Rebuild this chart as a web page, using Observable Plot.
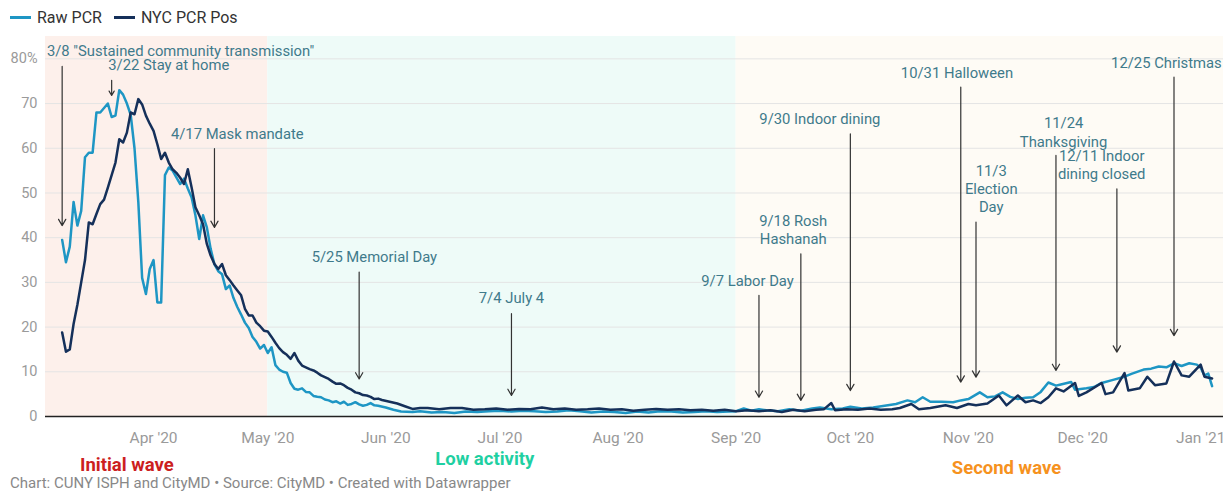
<!DOCTYPE html>
<html><head><meta charset="utf-8">
<script src="https://cdn.jsdelivr.net/npm/d3@7"></script>
<script src="https://cdn.jsdelivr.net/npm/@observablehq/plot@0.6"></script>
<style>
body{margin:0;background:#fff;font-family:Roboto,sans-serif;}
#wrap{position:relative;width:1223px;height:492px;overflow:hidden;}
#legend{position:absolute;left:10px;top:8px;font-size:16px;color:#333;display:flex;align-items:center;white-space:nowrap;}
#legend .sw{display:inline-block;width:21px;height:3px;margin-right:6px;}
#legend .it{display:flex;align-items:center;margin-right:12px;}
#chart{position:absolute;left:0;top:32px;}
#caption{position:absolute;left:10px;top:475px;font-size:15px;line-height:16px;color:#888;white-space:nowrap;}
</style></head><body>
<div id="wrap">
  <div id="legend"></div>
  <div id="chart"></div>
  <div id="caption">Chart: CUNY ISPH and CityMD • Source: CityMD • Created with Datawrapper</div>
</div>
<script>
// ---- data ----
const seriesNames = ["Raw PCR", "NYC PCR Pos"];

const rawPCR = [
["2020-03-08",39.5],["2020-03-09",34.5],["2020-03-10",38],["2020-03-11",48],["2020-03-12",42.7],["2020-03-13",46],
["2020-03-14",58],["2020-03-15",59],["2020-03-16",59],["2020-03-17",68],["2020-03-18",68],["2020-03-19",69],
["2020-03-20",70],["2020-03-21",67],["2020-03-22",67.3],["2020-03-23",73],["2020-03-24",72],["2020-03-25",70],
["2020-03-26",67.5],["2020-03-27",60],["2020-03-28",48],["2020-03-29",31],["2020-03-30",27.4],["2020-03-31",33],
["2020-04-01",35],["2020-04-02",25.5],["2020-04-03",25.5],["2020-04-04",54],["2020-04-05",55.7],["2020-04-06",55],
["2020-04-07",53.5],["2020-04-08",52],["2020-04-09",53.2],["2020-04-10",51],["2020-04-11",49],["2020-04-12",45],
["2020-04-13",39.7],["2020-04-14",45],["2020-04-15",42.3],["2020-04-16",37.5],["2020-04-17",34],["2020-04-18",32.5],
["2020-04-19",31.8],["2020-04-20",28.5],["2020-04-21",29.3],["2020-04-22",26.5],["2020-04-23",24.5],["2020-04-24",22.8],
["2020-04-25",21],["2020-04-26",19.8],["2020-04-27",17.8],["2020-04-28",16.7],["2020-04-29",15.2],["2020-04-30",16],
["2020-05-01",14.2],["2020-05-02",15.5],["2020-05-03",11.5],["2020-05-04",10.5],["2020-05-05",10],["2020-05-06",9.8],
["2020-05-07",7.5],["2020-05-08",6.2],["2020-05-09",6],["2020-05-10",6.3],["2020-05-11",5.5],["2020-05-12",5.4],
["2020-05-13",4.6],["2020-05-14",4.4],["2020-05-15",4.3],["2020-05-16",3.8],["2020-05-17",3.6],["2020-05-18",3.2],
["2020-05-19",3.4],["2020-05-20",2.9],["2020-05-21",3.3],["2020-05-22",2.6],["2020-05-23",2.8],["2020-05-24",3.2],
["2020-05-25",2.7],["2020-05-26",2.4],["2020-05-27",2.6],["2020-05-28",3.0],["2020-05-29",2.5],["2020-05-30",2.4],
["2020-06-01",2.0],["2020-06-03",1.5],["2020-06-05",1.1],["2020-06-08",1.0],["2020-06-10",1.2],["2020-06-13",0.9],
["2020-06-16",1.0],["2020-06-19",0.8],["2020-06-22",1.1],["2020-06-25",1.0],["2020-06-28",1.2],["2020-07-01",1.3],
["2020-07-04",1.1],["2020-07-07",1.3],["2020-07-10",1.2],["2020-07-13",1.0],["2020-07-16",1.1],["2020-07-19",1.4],
["2020-07-22",1.2],["2020-07-25",0.9],["2020-07-28",1.1],["2020-07-31",1.0],["2020-08-03",0.8],["2020-08-06",1.1],
["2020-08-09",0.9],["2020-08-12",1.2],["2020-08-15",1.1],["2020-08-18",0.9],["2020-08-21",1.0],["2020-08-24",1.2],
["2020-08-27",1.0],["2020-08-30",1.1],["2020-09-01",1.2],["2020-09-03",1.8],["2020-09-05",1.3],["2020-09-07",1.6],
["2020-09-09",1.4],["2020-09-12",1.2],["2020-09-15",1.6],["2020-09-18",1.3],["2020-09-21",1.8],["2020-09-23",2.0],
["2020-09-26",1.6],["2020-09-29",1.8],["2020-10-01",2.2],["2020-10-04",1.8],["2020-10-07",2.0],["2020-10-10",2.4],
["2020-10-13",2.8],["2020-10-16",3.6],["2020-10-18",3.2],["2020-10-20",4.3],["2020-10-22",3.3],["2020-10-25",3.3],
["2020-10-28",3.2],["2020-10-30",3.6],["2020-11-01",3.9],["2020-11-04",5.4],["2020-11-06",4.3],["2020-11-08",4.5],
["2020-11-10",5.4],["2020-11-12",4.4],["2020-11-14",3.9],["2020-11-16",4.2],["2020-11-18",4.3],["2020-11-20",5.5],
["2020-11-22",7.6],["2020-11-24",6.9],["2020-11-25",7.1],["2020-11-28",7.7],["2020-11-29",6.0],["2020-12-02",6.3],
["2020-12-04",6.6],["2020-12-06",7.5],["2020-12-09",8.2],["2020-12-12",8.9],["2020-12-14",9.6],["2020-12-17",10.5],
["2020-12-19",10.7],["2020-12-21",11.2],["2020-12-23",11.0],["2020-12-25",11.9],["2020-12-27",11.3],["2020-12-29",11.9],
["2020-12-31",11.6],["2021-01-01",10.9],["2021-01-02",9.2],["2021-01-03",9.6],["2021-01-04",6.8]
];

const nycPCR = [
["2020-03-08",18.8],["2020-03-09",14.5],["2020-03-10",15],["2020-03-11",20.7],["2020-03-12",25],["2020-03-13",30],
["2020-03-14",35],["2020-03-15",43.4],["2020-03-16",43],["2020-03-17",45.3],["2020-03-18",47.5],["2020-03-19",48.5],
["2020-03-20",51.2],["2020-03-21",54],["2020-03-22",56.8],["2020-03-23",62],["2020-03-24",61.3],["2020-03-25",63.5],
["2020-03-26",68],["2020-03-27",67.6],["2020-03-28",71],["2020-03-29",69.8],["2020-03-30",67.3],["2020-03-31",65.5],
["2020-04-01",63.9],["2020-04-02",60.9],["2020-04-03",57.6],["2020-04-04",59],["2020-04-05",56.8],["2020-04-06",55.3],
["2020-04-07",54.5],["2020-04-08",53.4],["2020-04-09",52],["2020-04-10",55.3],["2020-04-11",51.2],["2020-04-12",46.8],
["2020-04-13",45],["2020-04-14",43],["2020-04-15",38.6],["2020-04-16",36],["2020-04-17",34.1],["2020-04-18",33],
["2020-04-19",34.1],["2020-04-20",31.6],["2020-04-21",30.5],["2020-04-22",29.3],["2020-04-23",28.2],["2020-04-24",27.1],
["2020-04-25",24.1],["2020-04-26",22.6],["2020-04-27",22.6],["2020-04-28",21],["2020-04-29",20.2],["2020-04-30",19.2],
["2020-05-01",19],["2020-05-02",17.8],["2020-05-03",16.5],["2020-05-04",15.3],["2020-05-05",14.4],["2020-05-06",13.8],
["2020-05-07",12.9],["2020-05-08",14.2],["2020-05-09",12.5],["2020-05-10",11.4],["2020-05-11",11],["2020-05-12",10.6],
["2020-05-13",10.3],["2020-05-14",9.8],["2020-05-15",9.2],["2020-05-16",8.8],["2020-05-17",8.4],["2020-05-18",7.8],
["2020-05-19",7.3],["2020-05-20",7.4],["2020-05-21",7],["2020-05-22",6.4],["2020-05-23",6],["2020-05-24",5.4],
["2020-05-25",5.2],["2020-05-26",4.8],["2020-05-27",4.7],["2020-05-28",4.4],["2020-05-29",3.9],["2020-05-30",4.0],
["2020-05-31",3.7],["2020-06-02",3.3],["2020-06-04",2.9],["2020-06-06",2.3],["2020-06-08",1.7],["2020-06-10",1.9],
["2020-06-12",1.9],["2020-06-15",1.6],["2020-06-18",1.9],["2020-06-21",1.9],["2020-06-24",1.5],["2020-06-27",1.6],
["2020-06-30",1.8],["2020-07-03",1.5],["2020-07-06",1.7],["2020-07-09",1.6],["2020-07-12",2.0],["2020-07-15",1.6],
["2020-07-18",1.8],["2020-07-21",1.5],["2020-07-24",1.6],["2020-07-27",1.8],["2020-07-30",1.5],["2020-08-02",1.6],
["2020-08-05",1.3],["2020-08-08",1.5],["2020-08-11",1.7],["2020-08-14",1.5],["2020-08-17",1.6],["2020-08-20",1.4],
["2020-08-23",1.5],["2020-08-26",1.3],["2020-08-29",1.5],["2020-09-01",1.2],["2020-09-04",1.4],["2020-09-07",1.2],
["2020-09-10",1.4],["2020-09-13",1.0],["2020-09-16",1.5],["2020-09-19",1.2],["2020-09-22",1.5],["2020-09-24",1.6],
["2020-09-26",3.0],["2020-09-27",1.4],["2020-09-30",1.6],["2020-10-03",1.5],["2020-10-06",1.8],["2020-10-09",1.5],
["2020-10-12",1.6],["2020-10-14",1.9],["2020-10-17",2.8],["2020-10-19",1.6],["2020-10-22",1.9],["2020-10-26",2.5],
["2020-10-29",1.9],["2020-11-01",2.8],["2020-11-03",2.5],["2020-11-06",2.9],["2020-11-09",4.7],["2020-11-11",2.5],
["2020-11-14",4.7],["2020-11-16",3.2],["2020-11-18",3.6],["2020-11-20",3.0],["2020-11-22",4.3],["2020-11-24",6.3],
["2020-11-26",5.6],["2020-11-29",7.5],["2020-11-30",4.6],["2020-12-02",5.4],["2020-12-06",7.5],["2020-12-07",5.0],
["2020-12-09",5.4],["2020-12-12",9.7],["2020-12-13",5.8],["2020-12-16",6.3],["2020-12-18",8.9],["2020-12-20",7.0],
["2020-12-23",7.4],["2020-12-25",12.3],["2020-12-27",9.2],["2020-12-29",8.9],["2021-01-01",11.6],["2021-01-02",8.9],
["2021-01-04",8.5]
];

// annotations: event date, arrow start / end value, label, label anchor date and value
const annDates  = ["2020-03-08","2020-03-21","2020-04-17","2020-05-25","2020-07-04","2020-09-07","2020-09-18","2020-10-01","2020-10-30","2020-11-03","2020-11-24","2020-12-10","2020-12-25"];
const annTop    = [78.3, 75.2, 59.9, 32.3, 23, 27.1, 36.4, 63.2, 73.7, 43.5, 58.4, 50.9, 75.9];
const annTip    = [42.7, 71.8, 42.3, 8.4, 4.7, 4.3, 3.6, 5.8, 7.7, 8.8, 10.3, 14.4, 18.1];
const annLabels = ["3/8 \"Sustained community transmission\"","3/22 Stay at home","4/17 Mask mandate","5/25 Memorial Day","7/4 July 4","9/7 Labor Day","9/18 Rosh\nHashanah","9/30 Indoor dining","10/31 Halloween","11/3\nElection\nDay","11/24\nThanksgiving","12/11 Indoor\ndining closed","12/25 Christmas"];
const annLabelDates = ["2020-03-04","2020-04-05","2020-04-23","2020-05-29","2020-07-04","2020-09-04","2020-09-16","2020-09-23","2020-10-29","2020-11-07","2020-11-26","2020-12-06","2020-12-23"];
const annLabelValues = [81.9, 78.7, 63.3, 35.8, 26.6, 30.4, 41.8, 66.7, 77, 51, 63.7, 56.4, 79.2];

// phases
const phaseNames  = ["Initial wave","Low activity","Second wave"];
const phaseStarts = ["2020-03-03T15:00","2020-05-01","2020-09-01"];
const phaseEnds   = ["2020-05-01","2020-09-01","2021-01-07"];
const phaseLabelDates = ["2020-03-25","2020-06-27","2020-11-11"];
const phaseLabelValues = [-10.8, -9.5, -11.5];

const xDomain = ["2020-03-03T15:00","2021-01-07"];
const xTicks = ["2020-04-01","2020-05-01","2020-06-01","2020-07-01","2020-08-01","2020-09-01","2020-10-01","2020-11-01","2020-12-01","2021-01-01"];
const yTicks = [0,10,20,30,40,50,60,70,80];

// ---- styles ----
const colors = {"Raw PCR":"#1e96c4","NYC PCR Pos":"#15305a"};
const phaseFill = ["#fdf0eb","#eefbf8","#fefbf5"];
const phaseText = ["#cc1f1f","#1fd0a2","#f6921e"];

// ---- build ----
const P = s => new Date(s.length === 10 ? s + "T00:00:00Z" : s + ":00Z");
const rows = [];
rawPCR.forEach(([d,v]) => rows.push({date:P(d), value:v, series:seriesNames[0]}));
nycPCR.forEach(([d,v]) => rows.push({date:P(d), value:v, series:seriesNames[1]}));
const ann = annDates.map((d,i) => ({date:P(d), top:annTop[i], tip:annTip[i], label:annLabels[i], ld:P(annLabelDates[i]), lv:annLabelValues[i]}));
const phases = phaseNames.map((n,i) => ({name:n, start:P(phaseStarts[i]), end:P(phaseEnds[i]), ld:P(phaseLabelDates[i]), lv:phaseLabelValues[i], fill:phaseFill[i], tc:phaseText[i]}));

// legend
const lg = document.getElementById("legend");
seriesNames.forEach(n => {
  const it = document.createElement("span"); it.className = "it";
  it.innerHTML = `<span class="sw" style="background:${colors[n]}"></span>${n}`;
  lg.appendChild(it);
});

const annStyle = {lineHeight: 1.22, fill: "#3f7a8b", fontSize: 14.8};

const chart = Plot.plot({
  width: 1223, height: 460,
  marginLeft: 45, marginRight: 0, marginTop: 4, marginBottom: 76,
  style: {fontFamily: "Roboto, sans-serif", fontSize: "14px", color: "#9a9a9a", background: "transparent", overflow: "visible"},
  x: {type: "utc", domain: xDomain.map(P), label: null},
  y: {domain: [0, 85], label: null},
  marks: [
    Plot.rect(phases, {x1: "start", x2: "end", y1: 0, y2: 85, fill: d => d.fill}),
    Plot.ruleY(yTicks.filter(t => t > 0), {stroke: "#e4e4e4", strokeWidth: 1}),
    Plot.axisX({ticks: xTicks.map(P), tickFormat: d3.utcFormat("%b '%y"), tickSize: 0, tickPadding: 15, fontSize: 15.5, label: null}),
    Plot.axisY({ticks: yTicks, tickFormat: d => d === 80 ? "80%" : String(d), tickSize: 0, tickPadding: 8, fontSize: 14.5, label: null}),
    Plot.lineY(rows.filter(r => r.series === seriesNames[0]), {x: "date", y: "value", stroke: colors[seriesNames[0]], strokeWidth: 2.5, strokeLinejoin: "round"}),
    Plot.lineY(rows.filter(r => r.series === seriesNames[1]), {x: "date", y: "value", stroke: colors[seriesNames[1]], strokeWidth: 2.5, strokeLinejoin: "round"}),
    Plot.ruleY([0], {stroke: "#222", strokeWidth: 1.5}),
    Plot.arrow(ann, {x1: "date", x2: "date", y1: "top", y2: "tip", bend: 0, headLength: 9, headAngle: 60, stroke: "#333", strokeWidth: 1.2}),
    Plot.text(ann.slice(0, 1), {x: "ld", y: "lv", text: "label", textAnchor: "start", ...annStyle}),
    Plot.text(ann.slice(1), {x: "ld", y: "lv", text: "label", textAnchor: "middle", ...annStyle}),
    Plot.text(phases, {x: "ld", y: "lv", text: "name", fill: d => d.tc, fontSize: 18.5, fontWeight: "bold"})
  ]
});
document.getElementById("chart").appendChild(chart);
</script>
</body></html>
